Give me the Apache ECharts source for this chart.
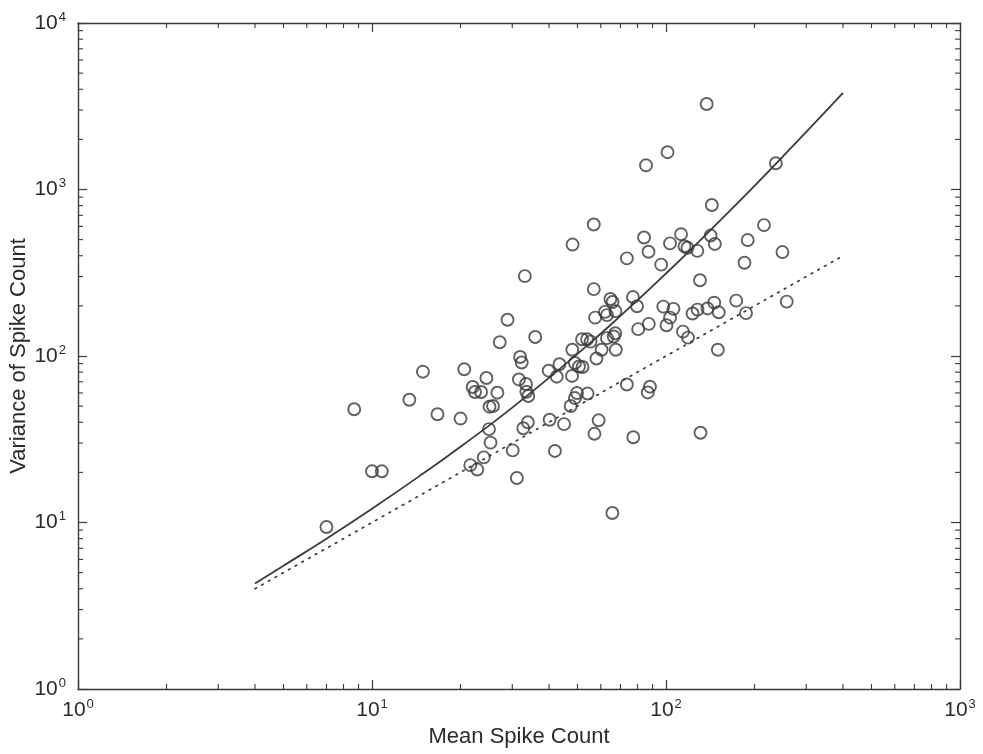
<!DOCTYPE html>
<html><head><meta charset="utf-8">
<script src="https://cdn.jsdelivr.net/npm/echarts@6/dist/echarts.min.js"></script>
<style>html,body{margin:0;padding:0;background:#fff}#c{width:983px;height:754px}</style>
</head><body><div id="c"></div>
<script>
// ---- data ----
const meanCounts = [7.0, 8.7, 10.0, 10.8, 13.4, 14.9, 16.7, 20.0, 20.6, 21.6,
  22.0, 22.4, 23.5, 22.8, 24.0, 24.5, 25.1, 25.8, 25.0, 25.3,
  26.7, 27.2, 28.9, 30.1, 31.1, 31.6, 31.9, 32.3, 33.1, 33.4,
  33.5, 34.0, 32.7, 33.9, 35.9, 39.9, 40.2, 41.9, 42.5, 43.4,
  45.0, 47.4, 48.1, 48.0, 47.9, 49.0, 49.8, 49.0, 50.6, 52.0,
  51.8, 53.9, 55.4, 54.1, 56.8, 56.8, 57.4, 57.1, 59.0, 58.0,
  60.4, 62.0, 63.0, 67.3, 63.0, 66.4, 67.2, 64.7, 65.8, 67.5,
  65.7, 73.6, 73.6, 77.2, 79.7, 77.4, 80.4, 84.2, 85.5, 87.2,
  87.4, 88.2, 86.7, 96.3, 101.2, 97.9, 103.2, 100.4, 106.0, 103.2,
  112.5, 115.6, 118.3, 114.2, 118.8, 123.1, 128.0, 127.8, 130.5, 131.0,
  137.5, 138.4, 143.2, 141.9, 146.6, 145.9, 151.1, 150.1, 173.3, 184.9,
  187.1, 189.6, 215.4, 236.4, 248.9, 257.4];
const varCounts = [9.4, 47.9, 20.3, 20.3, 54.6, 80.5, 44.7, 42.1, 83.2, 22.1,
  65.1, 60.8, 60.8, 20.8, 24.6, 73.8, 49.6, 50.1, 36.4, 30.2,
  60.2, 121, 165, 27.1, 18.5, 72.3, 98.6, 91.4, 302, 67.9,
  61.0, 57.5, 36.8, 40.0, 130, 81.6, 41.4, 26.9, 75.1, 89.2,
  39.0, 50.1, 467, 109, 75.9, 55.9, 59.9, 90.8, 86.5, 85.9,
  126, 126, 122, 59.5, 616, 252, 170, 34.1, 41.1, 96.6,
  109, 184, 176, 186, 128, 131, 137, 220, 211, 109,
  11.4, 386, 67.4, 226, 199, 32.5, 145, 515, 1397, 423,
  156, 65.4, 60.4, 354, 1675, 198, 170, 153, 192, 475,
  539, 456, 447, 140, 129, 180, 190, 428, 285, 34.6,
  3262, 193, 807, 529, 471, 209, 183, 109, 215, 363,
  181, 497, 611, 1437, 421, 212];
const fitMean = [4, 5, 7, 10, 15, 20, 30, 50, 70, 100, 150, 200, 300, 400];
const fitVar  = [4.3, 5.5, 8.0, 12.1, 19.8, 28.5, 49, 103, 174, 313, 630, 1050, 2220, 3810];
const poissonMean = [4, 400];
const poissonVar  = [4, 400];
const xMinorBases = [1, 10, 100];
const yMinorBases = [1, 10, 100, 1000];
const xTitle = 'Mean Spike Count';
const yTitle = 'Variance of Spike Count';

const INK = '#3a3a3a';
const TXT = '#2b2b2b';
const FONT = '"Liberation Sans", Arial, Helvetica, sans-serif';
function powLabel(v){ const e = Math.round(Math.log10(v)); return '{b|10}{s|' + e + '}'; }
const rich = {
  b: {fontSize: 21, fontFamily: FONT, color: TXT, lineHeight: 25},
  s: {fontSize: 13, fontFamily: FONT, color: TXT, lineHeight: 13, verticalAlign: 'top', padding: [0,0,0,1]}
};
const axisLine = {show: true, onZero: false, lineStyle: {color: INK, width: 1.4}};
const axisTick = {show: true, inside: true, length: 9, lineStyle: {color: INK, width: 1.2}};

const chart = echarts.init(document.getElementById('c'), null, {renderer: 'canvas'});
const option = {
  animation: false,
  backgroundColor: '#fff',
  grid: {left: 78, right: 23, top: 23, bottom: 65, containLabel: false, outerBoundsMode: 'none'},
  xAxis: [
    {type: 'log', logBase: 10, min: 1, max: 1000, position: 'bottom',
     axisLine, axisTick, splitLine: {show: false},
     axisLabel: {formatter: powLabel, rich, margin: 9, color: TXT},
     name: xTitle, nameLocation: 'middle', nameGap: 37, nameMoveOverlap: false,
     nameTextStyle: {fontSize: 22, fontFamily: FONT, color: TXT}},
    {type: 'log', logBase: 10, min: 1, max: 1000, position: 'top',
     axisLine, axisTick, splitLine: {show: false}, axisLabel: {show: false}}
  ],
  yAxis: [
    {type: 'log', logBase: 10, min: 1, max: 10000, position: 'left',
     axisLine, axisTick, splitLine: {show: false},
     axisLabel: {formatter: powLabel, rich, margin: 12, color: TXT},
     name: yTitle, nameLocation: 'middle', nameGap: 48, nameMoveOverlap: false,
     nameTextStyle: {fontSize: 22, fontFamily: FONT, color: TXT}},
    {type: 'log', logBase: 10, min: 1, max: 10000, position: 'right',
     axisLine, axisTick, splitLine: {show: false}, axisLabel: {show: false}}
  ],
  series: [
    {type: 'scatter', xAxisIndex: 0, yAxisIndex: 0,
     data: meanCounts.map((m, i) => [m, varCounts[i]]),
     symbol: 'circle', symbolSize: 12,
     itemStyle: {color: 'rgba(0,0,0,0)', borderColor: INK, borderWidth: 1.9},
     z: 3},
    {type: 'line', xAxisIndex: 0, yAxisIndex: 0, smooth: true,
     data: fitMean.map((m, i) => [m, fitVar[i]]),
     showSymbol: false, lineStyle: {color: INK, width: 1.8}, z: 4},
    {type: 'line', xAxisIndex: 0, yAxisIndex: 0,
     data: poissonMean.map((m, i) => [m, poissonVar[i]]),
     showSymbol: false, lineStyle: {color: INK, width: 1.7, type: [1.7, 6], cap: 'round'}, z: 4}
  ]
};
chart.setOption(option);

function drawMinor(){
  const els = [];
  const pB = chart.convertToPixel({yAxisIndex: 0}, 1);
  const pT = chart.convertToPixel({yAxisIndex: 0}, 10000);
  const pL = chart.convertToPixel({xAxisIndex: 0}, 1);
  const pR = chart.convertToPixel({xAxisIndex: 0}, 1000);
  const st = {stroke: INK, lineWidth: 1.1};
  const L = 5;
  xMinorBases.forEach(d => { for (let k = 2; k <= 9; k++) {
    const px = chart.convertToPixel({xAxisIndex: 0}, k * d);
    els.push({type: 'line', silent: true, shape: {x1: px, y1: pB, x2: px, y2: pB - L}, style: st});
    els.push({type: 'line', silent: true, shape: {x1: px, y1: pT, x2: px, y2: pT + L}, style: st});
  }});
  yMinorBases.forEach(d => { for (let k = 2; k <= 9; k++) {
    const py = chart.convertToPixel({yAxisIndex: 0}, k * d);
    els.push({type: 'line', silent: true, shape: {x1: pL, y1: py, x2: pL + L, y2: py}, style: st});
    els.push({type: 'line', silent: true, shape: {x1: pR, y1: py, x2: pR - L, y2: py}, style: st});
  }});
  chart.setOption({graphic: {elements: els}});
}
drawMinor();
</script></body></html>
